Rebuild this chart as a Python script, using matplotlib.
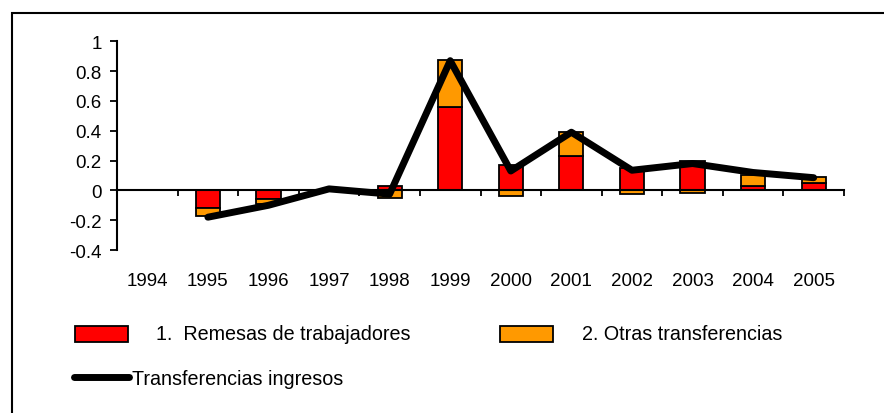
import matplotlib
matplotlib.use("Agg")
import matplotlib.pyplot as plt
import numpy as np
from matplotlib.patches import Rectangle
from matplotlib.lines import Line2D
import matplotlib.transforms as mtransforms

plt.rcParams['font.family'] = ['Liberation Sans', 'DejaVu Sans']

years = ['1994', '1995', '1996', '1997', '1998', '1999', '2000', '2001', '2002', '2003', '2004', '2005']
remesas = [0.0, -0.12, -0.058, 0.0, 0.03, 0.556, 0.168, 0.229, 0.15, 0.195, 0.027, 0.052]
otras = [0.0, -0.055, -0.035, 0.0, -0.05, 0.317, -0.038, 0.16, -0.027, -0.016, 0.078, 0.041]
total = [np.nan, -0.18, -0.10, 0.01, -0.025, 0.87, 0.13, 0.39, 0.135, 0.18, 0.12, 0.085]
yticks = [-0.4, -0.2, 0, 0.2, 0.4, 0.6, 0.8, 1]
ytick_labels = ['-0.4', '-0.2', '0', '0.2', '0.4', '0.6', '0.8', '1']
legend_labels = ['1.  Remesas de trabajadores', '2. Otras transferencias', 'Transferencias ingresos']

W, H = 884, 414
FS = 13.5
LFS = 14.2
fig = plt.figure(figsize=(W / 100, H / 100), dpi=100)
ax = fig.add_axes([117 / W, 1 - 251 / H, (844 - 117) / W, (251 - 42.3) / H])

red = '#FF0000'
orange = '#FF9900'
x = np.arange(len(years)) + 0.5
rem = np.array(remesas)
otr = np.array(otras)
bottom_o = np.where(np.sign(otr) == np.sign(rem), rem, 0.0)
mr = rem != 0
mo = otr != 0
ax.bar(x[mr], rem[mr], width=0.4, color=red, edgecolor='black', linewidth=1.3, zorder=2)
ax.bar(x[mo], otr[mo], width=0.4, bottom=bottom_o[mo], color=orange, edgecolor='black', linewidth=1.3, zorder=2)
ax.plot(x, total, color='black', lw=5, solid_capstyle='round', solid_joinstyle='round', zorder=3)

ax.set_xlim(0, len(years))
ax.set_ylim(-0.4, 1)
ax.set_yticks(yticks)
ax.set_yticklabels(ytick_labels)
ax.spines['top'].set_visible(False)
ax.spines['right'].set_visible(False)
ax.spines['bottom'].set_position(('data', 0))
ax.spines['left'].set_linewidth(1.5)
ax.spines['bottom'].set_linewidth(1.5)
ax.set_xticks(np.arange(len(years) + 1))
ax.set_xticklabels([])
ax.tick_params(axis='x', direction='out', length=4.5, width=1.3)
ax.tick_params(axis='y', direction='out', length=5, width=1.3, pad=6, labelsize=FS)

trans = mtransforms.blended_transform_factory(ax.transData, ax.transAxes)
for xi, lab in zip(x, years):
    ax.text(xi, -0.144, lab, transform=trans, ha='center', va='center', fontsize=FS)

# figure frame
fig.add_artist(Rectangle((11.5 / W, -0.1), 1.2, 1 - 14 / H + 0.1, transform=fig.transFigure,
                         fill=False, edgecolor='black', lw=1.5))

# legend
def fx(px):
    return px / W

def fy(py):
    return 1 - py / H

fig.add_artist(Rectangle((fx(75), fy(343)), fx(128) - fx(75), fy(327) - fy(343), transform=fig.transFigure,
                         facecolor=red, edgecolor='black', lw=1.3))
fig.text(fx(156), fy(335), legend_labels[0], ha='left', va='center', fontsize=LFS)
fig.add_artist(Rectangle((fx(500), fy(343)), fx(553) - fx(500), fy(327) - fy(343), transform=fig.transFigure,
                         facecolor=orange, edgecolor='black', lw=1.3))
fig.text(fx(582), fy(335), legend_labels[1], ha='left', va='center', fontsize=LFS)
fig.add_artist(Line2D([fx(74), fx(129)], [fy(378), fy(378)], transform=fig.transFigure,
                      color='black', lw=5, solid_capstyle='round'))
fig.text(fx(132), fy(380), legend_labels[2], ha='left', va='center', fontsize=LFS)

fig.savefig('out.png', dpi=100)
